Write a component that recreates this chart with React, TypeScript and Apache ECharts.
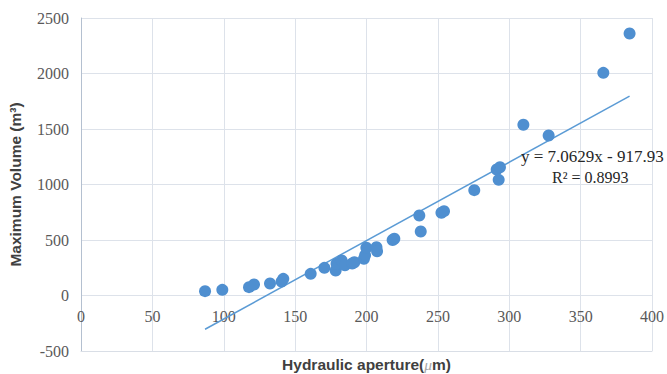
import React, { useEffect, useRef } from "react";
import * as echarts from "echarts";

const apertures = [86.9, 99, 117.7, 121.2, 132.4, 140.5, 141.7, 160.9, 170.5, 178.4, 179, 182.6, 184.9, 190, 191.5, 198.2, 199, 199.9, 207, 207.4, 218.3, 219.5, 237, 238, 252.5, 254.3, 275.5, 291.2, 292.6, 293.5, 309.9, 327.6, 365.9, 384.3];
const volumes = [39, 51, 75, 99, 108, 125, 150, 195, 249, 225, 285, 315, 273, 288, 300, 330, 363, 430, 435, 399, 500, 511, 721, 577, 745, 760, 949, 1135, 1042, 1156, 1538, 1441, 2006, 2360];
const slope = 7.0629;
const intercept = -917.93;
const equationText = "y = 7.0629x - 917.93";
const r2Text = "R² = 0.8993";
const yTitle = "Maximum Volume (m³)";

const SERIF = "'Liberation Serif', 'Times New Roman', serif";
const SANS = "'Liberation Sans', Arial, sans-serif";

export default function App() {
  const ref = useRef<HTMLDivElement>(null);
  useEffect(() => {
    if (!ref.current) return;
    const chart = echarts.init(ref.current, null, { renderer: "svg" });
    const pts = apertures.map((x, i) => [x, volumes[i]]);
    const xMin = Math.min(...apertures);
    const xMax = Math.max(...apertures);
    const trend = [
      [xMin, slope * xMin + intercept],
      [xMax, slope * xMax + intercept],
    ];
    chart.setOption({
      animation: false,
      grid: { left: 81, right: 15, top: 18, bottom: 23, containLabel: false, outerBoundsMode: "none" },
      xAxis: {
        type: "value",
        min: 0,
        max: 400,
        interval: 50,
        axisLine: { show: true, onZero: false, lineStyle: { color: "#d9dee6", width: 1 } },
        axisTick: { show: false },
        axisLabel: {
          color: "#595959",
          fontFamily: SERIF,
          fontSize: 16,
          margin: -43,
          formatter: (v: number) => String(v),
        },
        splitLine: { show: true, lineStyle: { color: "#dde2ea", width: 1 } },
        name: "{b|Hydraulic aperture(}{mu|μ}{b|m)}",
        nameLocation: "middle",
        nameGap: 3,
        nameTextStyle: {
          verticalAlign: "top",
          rich: {
            b: { fontFamily: SANS, fontWeight: "bold", fontSize: 15.5, color: "#404040" },
            mu: { fontFamily: SERIF, fontStyle: "italic", fontSize: 15.5, color: "#a6a6a6" },
          },
        },
      },
      yAxis: {
        type: "value",
        min: -500,
        max: 2500,
        interval: 500,
        axisLine: { show: true, onZero: false, lineStyle: { color: "#b4c0d0", width: 1 } },
        axisTick: { show: false },
        axisLabel: {
          color: "#595959",
          fontFamily: SERIF,
          fontSize: 16,
          margin: 12,
          formatter: (v: number) => String(v),
        },
        splitLine: { show: true, lineStyle: { color: "#dde2ea", width: 1 } },
        name: yTitle,
        nameLocation: "middle",
        nameGap: 58,
        nameTextStyle: { fontFamily: SANS, fontWeight: "bold", fontSize: 15.5, color: "#404040" },
      },
      series: [
        {
          type: "line",
          data: trend,
          showSymbol: false,
          symbol: "none",
          lineStyle: { color: "#5b9bd5", width: 1.5 },
          z: 2,
          silent: true,
        },
        {
          type: "scatter",
          data: pts,
          symbol: "circle",
          symbolSize: 12,
          itemStyle: { color: "#4f8fd0", opacity: 1 },
          z: 3,
        },
      ],
      graphic: [
        {
          type: "text",
          left: 521,
          top: 148,
          style: { text: equationText, font: "17px 'Liberation Serif'", fill: "#262626" },
          z: 10,
        },
        {
          type: "text",
          left: 552,
          top: 169,
          style: { text: r2Text, font: "16px 'Liberation Serif'", fill: "#262626" },
          z: 10,
        },
      ],
    });
    return () => chart.dispose();
  }, []);
  return <div ref={ref} style={{ width: 667, height: 374, position: "absolute", left: 0, top: 0 }} />;
}
